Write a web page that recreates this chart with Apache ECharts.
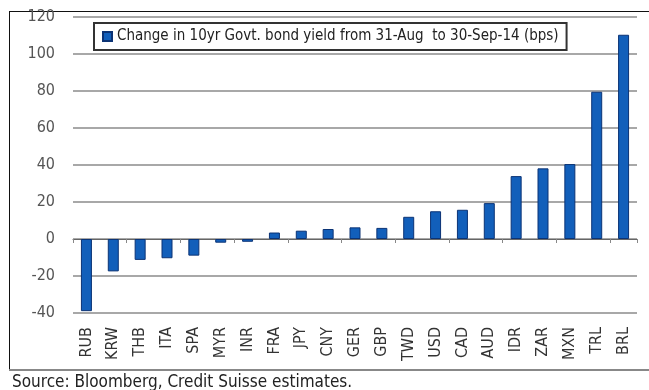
<!DOCTYPE html>
<html>
<head>
<meta charset="utf-8">
<script src="https://cdn.jsdelivr.net/npm/echarts@6/dist/echarts.min.js"></script>
<style>
html,body{margin:0;padding:0;background:#fff;}
#c{width:649px;height:390px;}
</style>
</head>
<body>
<div id="c"></div>
<script>
const categories = ['RUB','KRW','THB','ITA','SPA','MYR','INR','FRA','JPY','CNY','GER','GBP','TWD','USD','CAD','AUD','IDR','ZAR','MXN','TRL','BRL'];
const values = [-39,-17.5,-11.3,-10.4,-9,-2,-1.5,3.5,4.5,5.4,6.3,6,12,15,15.8,19.4,34,38.2,40.5,79.6,110.4];
const yTicks = {min:-40, max:120, interval:20};
const seriesName = 'Change in 10yr Govt. bond yield from 31-Aug  to 30-Sep-14 (bps)';
const sourceText = 'Source: Bloomberg, Credit Suisse estimates.';

const FONT = "'Liberation Sans Narrow','Arial Narrow','DejaVu Sans Condensed',sans-serif";
const chart = echarts.init(document.getElementById('c'), null, {renderer:'canvas'});
chart.setOption({
  animation:false,
  backgroundColor:'#fff',
  textStyle:{fontFamily:FONT},
  grid:{left:73, right:12, top:17, bottom:77},
  legend:{
    data:[seriesName], left:94, top:23,
    borderColor:'#333', borderWidth:2, padding:[6,8,6,8],
    itemWidth:9, itemHeight:9, itemGap:4,
    textStyle:{fontFamily:FONT, fontSize:15, color:'#222'},
    icon:'rect'
  },
  xAxis:[{
    type:'category', data:categories,
    axisLine:{onZero:true, lineStyle:{color:'#666', width:1}},
    axisTick:{show:true, length:4, lineStyle:{color:'#888'}},
    axisLabel:{show:false}
  },{
    type:'category', data:categories, position:'bottom',
    axisLine:{show:false, onZero:false}, axisTick:{show:false},
    axisLabel:{rotate:90, fontFamily:FONT, fontSize:16, color:'#333', margin:14, interval:0}
  }],
  yAxis:{
    type:'value', min:yTicks.min, max:yTicks.max, interval:yTicks.interval,
    axisLine:{show:false}, axisTick:{show:false},
    axisLabel:{fontFamily:FONT, fontSize:16, color:'#555', margin:18},
    splitLine:{lineStyle:{color:'#a8a8a8', width:2}}
  },
  series:[{
    name:seriesName, type:'bar', data:values, barWidth:11,
    itemStyle:{color:'#125fba', borderColor:'#0b3375', borderWidth:1}
  }],
  graphic:[
    {type:'line', shape:{x1:9,y1:11.5,x2:649,y2:11.5}, style:{stroke:'#111', lineWidth:1}},
    {type:'line', shape:{x1:9.5,y1:11,x2:9.5,y2:370}, style:{stroke:'#111', lineWidth:1}},
    {type:'line', shape:{x1:9,y1:370,x2:649,y2:370}, style:{stroke:'#888', lineWidth:2}},
    {type:'text', left:12, top:374, style:{text:sourceText, font:"17px "+FONT, fill:'#222'}}
  ]
});
</script>
</body>
</html>
